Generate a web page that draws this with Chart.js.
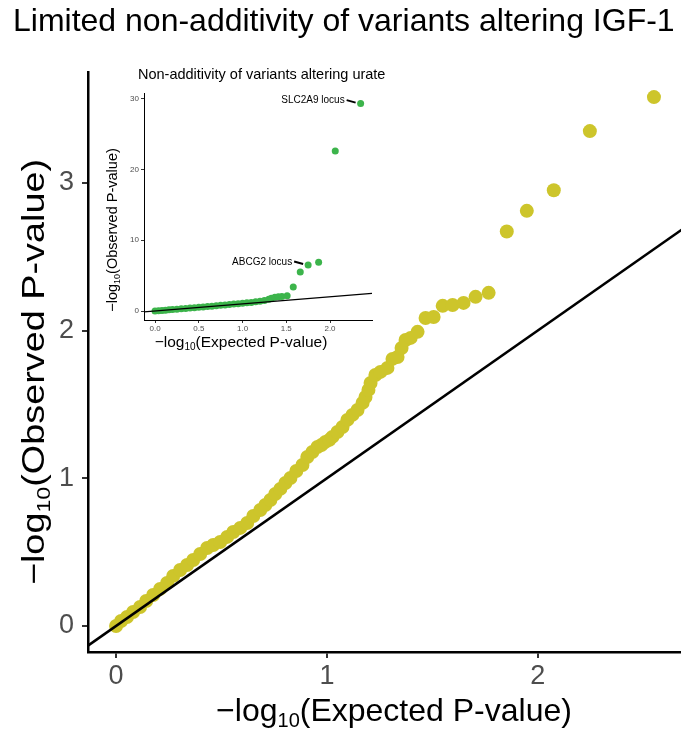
<!DOCTYPE html>
<html>
<head>
<meta charset="utf-8">
<script src="https://cdn.jsdelivr.net/npm/chart.js@4.4.1/dist/chart.umd.min.js"></script>
<style>
html,body{margin:0;padding:0;background:#fff;}
#wrap{position:relative;width:681px;height:736px;overflow:hidden;}
#main{position:absolute;left:0;top:0;}
#inset{position:absolute;left:90px;top:60px;}
</style>
</head>
<body>
<div id="wrap">
  <canvas id="main" width="689" height="736"></canvas>
  <canvas id="inset" width="300" height="300"></canvas>
</div>
<script>
// IGF-1 QQ points
const igfExpected = [0.000,0.024,0.052,0.081,0.114,0.143,0.176,0.209,0.242,0.271,0.304,0.337,0.366,0.399,0.432,0.461,0.494,0.527,0.556,0.589,0.622,0.651,0.684,0.708,0.732,0.755,0.779,0.803,0.827,0.855,0.884,0.907,0.931,0.955,0.974,0.993,1.012,1.026,1.050,1.074,1.097,1.121,1.145,1.169,1.183,1.197,1.207,1.230,1.254,1.287,1.311,1.335,1.354,1.373,1.397,1.430,1.468,1.506,1.549,1.596,1.648,1.705,1.767,1.853,1.948,2.076,2.247,2.551];
const igfObserved = [0.000,0.034,0.061,0.095,0.129,0.169,0.210,0.251,0.291,0.339,0.379,0.413,0.447,0.487,0.528,0.548,0.569,0.603,0.636,0.664,0.697,0.745,0.785,0.819,0.853,0.894,0.928,0.968,1.002,1.049,1.090,1.144,1.178,1.212,1.225,1.246,1.260,1.280,1.313,1.347,1.395,1.429,1.462,1.510,1.550,1.598,1.645,1.699,1.720,1.747,1.808,1.821,1.882,1.936,1.950,1.991,2.085,2.092,2.167,2.173,2.187,2.228,2.255,2.67,2.81,2.95,3.35,3.58];
const mainXRange = [-0.133, 2.684];
const mainYRange = [-0.176, 3.75];
const mainXTicks = [0, 1, 2];
const mainYTicks = [0, 1, 2, 3];

// urate inset QQ points
const urateExpected = [0.00,0.04,0.08,0.12,0.16,0.20,0.25,0.30,0.35,0.40,0.45,0.50,0.55,0.60,0.65,0.70,0.75,0.80,0.85,0.90,0.95,1.00,1.05,1.10,1.15,1.20,1.25,1.30,1.33,1.37,1.41,1.45,1.51,1.58,1.66,1.75,1.87,2.06,2.35];
const urateObserved = [0.00,0.04,0.08,0.12,0.17,0.21,0.26,0.31,0.37,0.42,0.47,0.53,0.58,0.63,0.69,0.75,0.80,0.86,0.92,0.98,1.04,1.10,1.16,1.22,1.30,1.38,1.50,1.65,1.80,1.95,2.00,2.05,2.15,3.40,5.50,6.50,6.90,22.6,29.3];
const insetXRange = [-0.126, 2.48];
const insetYRange = [-1.27, 30.8];
const insetXTicks = [0, 0.5, 1, 1.5, 2];
const insetYTicks = [0, 10, 20, 30];
const insetNotes = [{idx: 38, text: 'SLC2A9 locus'}, {idx: 35, text: 'ABCG2 locus'}];

const FONT = '"Liberation Sans", Arial, Helvetica, sans-serif';
Chart.defaults.font.family = FONT;

const pts = (xs, ys) => xs.map((x, i) => ({x, y: ys[i]}));
const diag = r => [{x: r[0], y: r[0]}, {x: r[1], y: r[1]}];

// text with a subscript "10"; sx stretches along the text direction
function subText(ctx, parts, x, y, size, rot, sx){
  ctx.save();
  ctx.translate(x, y); ctx.rotate(rot || 0); ctx.scale(sx || 1, 1);
  const big = `${size}px ${FONT}`, small = `${Math.round(size*0.62)}px ${FONT}`;
  ctx.font = big; const w1 = ctx.measureText(parts[0]).width, w3 = ctx.measureText(parts[2]).width;
  ctx.font = small; const w2 = ctx.measureText(parts[1]).width;
  let cx = -(w1 + w2 + w3) / 2;
  ctx.textBaseline = 'middle'; ctx.fillStyle = '#000';
  ctx.font = big; ctx.fillText(parts[0], cx, 0); cx += w1;
  ctx.font = small; ctx.fillText(parts[1], cx, size*0.3); cx += w2;
  ctx.font = big; ctx.fillText(parts[2], cx, 0);
  ctx.restore();
}

function axis(range, ticks, fmt, o){
  return {
    type: 'linear', min: range[0], max: range[1],
    afterBuildTicks: s => { s.ticks = ticks.map(v => ({value: v})); },
    afterFit: o.fit,
    grid: {display: true, drawOnChartArea: false, drawTicks: true, tickLength: o.tl, color: '#333', lineWidth: o.tw},
    border: {display: true, color: '#000', width: o.bw},
    ticks: {color: '#4d4d4d', font: {size: o.fs}, padding: o.pad, maxRotation: 0, callback: v => fmt(v)}
  };
}

// main chart
new Chart(document.getElementById('main'), {
  type: 'scatter',
  data: {datasets: [
    {type: 'line', data: diag(mainXRange), borderColor: '#000', borderWidth: 2.5, pointRadius: 0, order: 0},
    {data: pts(igfExpected, igfObserved), backgroundColor: '#cdc52b', borderWidth: 0, pointRadius: 7, order: 1}
  ]},
  options: {
    responsive: false, animation: false,
    layout: {padding: {top: 72, right: 0, left: 0, bottom: 0}},
    plugins: {legend: {display: false}, tooltip: {enabled: false}},
    scales: {
      x: axis(mainXRange, mainXTicks, v => String(v), {fit: s => { s.height = 84; }, tl: 6, tw: 2, bw: 2.5, fs: 27, pad: 2}),
      y: axis(mainYRange, mainYTicks, v => String(v), {fit: s => { s.width = 88; }, tl: 6, tw: 2, bw: 2.5, fs: 27, pad: 8})
    }
  },
  plugins: [{
    id: 'mainText',
    afterDraw(c){
      const ctx = c.ctx;
      ctx.save();
      ctx.font = `32px ${FONT}`; ctx.fillStyle = '#000'; ctx.textBaseline = 'alphabetic';
      ctx.fillText('Limited non-additivity of variants altering IGF-1', 13, 31);
      ctx.restore();
      subText(ctx, ['\u2212log', '10', '(Expected P-value)'], 394, 712, 32, 0);
      subText(ctx, ['\u2212log', '10', '(Observed P-value)'], 35, 372, 31, -Math.PI / 2, 1.22);
    }
  }]
});

// inset chart
new Chart(document.getElementById('inset'), {
  type: 'scatter',
  data: {datasets: [
    {type: 'line', data: diag(insetXRange), borderColor: '#000', borderWidth: 1.2, pointRadius: 0, order: 0},
    {data: pts(urateExpected, urateObserved), backgroundColor: '#3cb44b', borderWidth: 0, pointRadius: 3.5, order: 1}
  ]},
  options: {
    responsive: false, animation: false,
    layout: {padding: {top: 33, right: 18, left: 0, bottom: 0}},
    plugins: {legend: {display: false}, tooltip: {enabled: false}},
    scales: {
      x: axis(insetXRange, insetXTicks, v => v.toFixed(1), {fit: s => { s.height = 40; }, tl: 3, tw: 1, bw: 1, fs: 8, pad: 1}),
      y: axis(insetYRange, insetYTicks, v => String(v), {fit: s => { s.width = 54; }, tl: 3, tw: 1, bw: 1, fs: 8, pad: 2})
    }
  },
  plugins: [{
    id: 'insetText',
    afterDraw(c){
      const ctx = c.ctx;
      ctx.save();
      ctx.font = `14.5px ${FONT}`; ctx.fillStyle = '#000'; ctx.textBaseline = 'middle';
      ctx.fillText('Non-additivity of variants altering urate', 48, 15);
      const meta = c.getDatasetMeta(1);
      ctx.font = `10px ${FONT}`; ctx.textAlign = 'right';
      ctx.strokeStyle = '#000'; ctx.lineWidth = 2;
      insetNotes.forEach(n => {
        const p = meta.data[n.idx];
        ctx.beginPath(); ctx.moveTo(p.x - 14, p.y - 3.5); ctx.lineTo(p.x - 5, p.y - 1); ctx.stroke();
        ctx.fillText(n.text, p.x - 16, p.y - 3);
      });
      ctx.restore();
      subText(ctx, ['\u2212log', '10', '(Expected P-value)'], 151, 283, 15.5, 0);
      subText(ctx, ['\u2212log', '10', '(Observed P-value)'], 23, 170, 14.5, -Math.PI / 2);
    }
  }]
});
</script>
</body>
</html>
